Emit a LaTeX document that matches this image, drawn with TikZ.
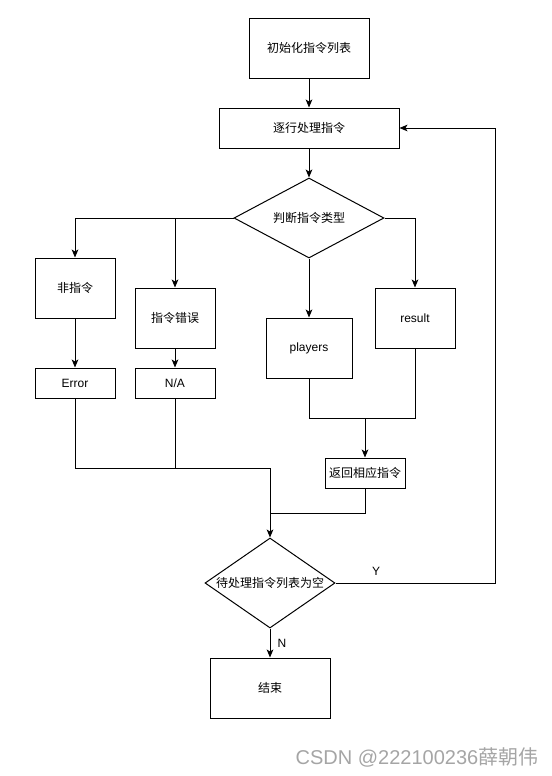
\documentclass[tikz,border=0pt]{standalone}
\usepackage{fontspec}
\setmainfont{Liberation Sans}
\newfontfamily\cjk{Noto Sans CJK SC}
\usetikzlibrary{shapes.geometric,arrows.meta}

\tikzset{every picture/.style={line width=0.75pt}}
\tikzset{
  box/.style={draw, rectangle, inner sep=0.75pt, font=\fontsize{9}{11}\selectfont, minimum width=60pt, minimum height=45pt},
  flat/.style={box, minimum height=22.5pt},
  decide/.style={draw, diamond, inner sep=0pt, font=\fontsize{9}{11}\selectfont},
  arr/.style={-{Stealth[length=6pt,width=5pt,inset=1.5pt]}},
  lbl/.style={inner sep=0.75pt, font=\fontsize{9}{11}\selectfont},
}

\begin{document}
\begin{tikzpicture}[x=0.75pt,y=0.75pt,yscale=-1,xscale=1]
%set diagram left start at 0, and has height of 776
\useasboundingbox (0,0) rectangle (551,776);

% Text Node
\draw (309,48) node [box, minimum width=90pt] (init) {\cjk 初始化指令列表};
% Text Node
\draw (309,128) node [box, minimum width=135pt, minimum height=30pt] (proc) {\cjk 逐行处理指令};
% Shape: Diamond
\draw (309,218) node [decide, aspect=1.875, minimum width=112.5pt, minimum height=60pt] (judge) {\cjk 判断指令类型};
% Text Node
\draw (75,288) node [box] (notcmd) {\cjk 非指令};
% Text Node
\draw (175,318) node [box] (badcmd) {\cjk 指令错误};
% Text Node
\draw (309,348) node [box, minimum width=64.5pt] (players) {players};
% Text Node
\draw (415,318) node [box] (result) {result};
% Text Node
\draw (75,383) node [flat] (err) {Error};
% Text Node
\draw (175,383) node [flat] (na) {N/A};
% Text Node
\draw (365,473) node [flat] (ret) {\cjk 返回相应指令};
% Shape: Diamond
\draw (270,583) node [decide, aspect=1.44, minimum width=97.5pt, minimum height=67.5pt] (empty) {\cjk 待处理指令列表为空};
% Text Node
\draw (270,688) node [box, minimum width=90pt] (finish) {\cjk 结束};

% joints
\coordinate (mergeL) at (270,468);
\coordinate (mergeR) at (365,418);
\coordinate (retjoin) at (270,513);
\coordinate (loopR) at (495,128);

%Straight Lines
\draw [arr] (init) -- (proc);
\draw [arr] (proc) -- (judge);
\draw [arr] (judge.west) -| (notcmd.north);
\draw [arr] (judge.west -| badcmd.north) -- (badcmd.north);
\draw [arr] (judge.east) -| (result.north);
\draw [arr] (judge.south) -- (players.north);
\draw [arr] (notcmd) -- (err);
\draw [arr] (badcmd) -- (na);
\draw (err.south) |- (mergeL);
\draw (na.south) -- (na.south |- mergeL);
\draw [arr] (mergeL) -- (empty.north);
\draw (players.south) |- (mergeR -| result.south) -- (result.south);
\draw [arr] (mergeR) -- (ret.north);
\draw (ret.south) |- (retjoin);
\draw [arr] (empty.east) -| (loopR) -- (proc.east);
\draw [arr] (empty.south) -- (finish.north);

% Text Node
\draw (376,571) node [lbl] (yes) {Y};
% Text Node
\draw (282,643) node [lbl] (no) {N};
% Text Node
\draw (417,757) node [inner sep=0pt, text={rgb,255:red,165;green,165;blue,165}, font=\fontsize{15}{17}\selectfont] (mark) {CSDN @222100236{\cjk 薛朝伟}};

\end{tikzpicture}
\end{document}
